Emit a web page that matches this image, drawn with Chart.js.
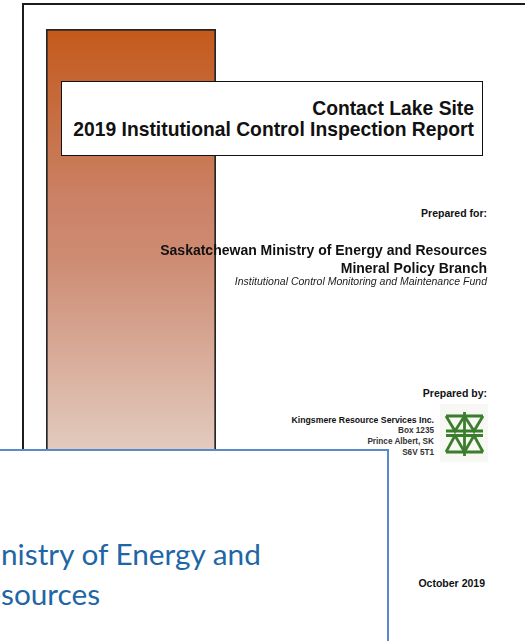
<!DOCTYPE html>
<html>
<head>
<meta charset="utf-8">
<title>Contact Lake Site - 2019 Institutional Control Inspection Report</title>
<script src="https://cdn.jsdelivr.net/npm/chart.js@4.4.1/dist/chart.umd.min.js"></script>
<style>
html, body { margin: 0; padding: 0; background: #fff; }
body { width: 525px; height: 641px; position: relative; overflow: hidden; font-family: "Liberation Sans", Arial, sans-serif; color: #111; }
.abs { position: absolute; white-space: nowrap; text-align: right; }
.page { position: absolute; left: 22px; top: 3px; width: 620px; height: 720px; border: 2px solid #1c1c1c; box-sizing: border-box; }
#bandWrap { position: absolute; left: 46px; top: 29px; width: 170px; height: 612px; }
.titlebox { position: absolute; left: 61px; top: 81px; width: 422px; height: 75px; border: 1.5px solid #111; box-sizing: border-box; background: #fff; }
.title { right: 51px; top: 98px; font-size: 19.3px; line-height: 21px; font-weight: bold; }
.small-b { font-size: 10.5px; line-height: 10.5px; font-weight: bold; }
.client { right: 38px; top: 241px; font-size: 14px; line-height: 18px; font-weight: bold; }
.fund { right: 38px; top: 276px; font-size: 10.5px; line-height: 10.5px; font-style: italic; color: #222; }
.firm { right: 91px; top: 415px; font-size: 8.7px; line-height: 10px; color: #111; }
.firm span { font-size: 8.2px; font-weight: bold; color: #333; }
.logo { position: absolute; left: 438px; top: 402px; width: 52px; height: 60px; }
.slide { position: absolute; left: -10px; top: 449px; width: 399px; height: 260px; border: 2px solid #5a8ac8; box-sizing: border-box; background: #fff; }
.blue { position: absolute; white-space: nowrap; font-family: Lato, "Open Sans", sans-serif; font-size: 29px; line-height: 29px; color: #1f66a6; }
</style>
</head>
<body>

<div class="page"></div>
<div id="bandWrap"><canvas id="band" width="170" height="612"></canvas></div>
<div class="titlebox"></div>
<div class="abs title">Contact Lake Site<br>2019 Institutional Control Inspection Report</div>

<div class="abs small-b" style="right:38px;top:208px;">Prepared for:</div>
<div class="abs client">Saskatchewan Ministry of Energy and Resources<br>Mineral Policy Branch</div>
<div class="abs fund">Institutional Control Monitoring and Maintenance Fund</div>

<div class="abs small-b" style="right:38px;top:388px;">Prepared by:</div>
<div class="abs firm"><b>Kingsmere Resource Services Inc.</b><br><span>Box 1235</span><br><span>Prince Albert, SK</span><br><span>S6V 5T1</span></div>
<svg class="logo" viewBox="0 0 52 60" xmlns="http://www.w3.org/2000/svg">
  <rect x="2" y="2" width="48" height="58" fill="#f7f7f3"/>
  <g stroke="#3a7d2c" stroke-width="2.8" fill="none" stroke-linejoin="miter">
    <line x1="8" y1="14" x2="45" y2="14"/>
    <line x1="8" y1="29" x2="45" y2="29"/>
    <line x1="8" y1="33.5" x2="45" y2="33.5"/>
    <line x1="8" y1="50" x2="45" y2="50"/>
    <polyline points="8,14 17,29 26.5,14 36,29 45,14"/>
    <polyline points="8,50 17,33.5 26.5,50 36,33.5 45,50"/>
    <line x1="26.5" y1="10" x2="26.5" y2="54"/>
  </g>
</svg>

<div class="abs small-b" style="right:40px;top:578px;">October 2019</div>

<div class="slide"></div>
<div class="blue" id="blue1" style="left:-170px;top:539px;">Saskatchewan Ministry of Energy and</div>
<div class="blue" id="blue2" style="left:-32px;top:579px;">Resources</div>

<script>
// Banda lateral de la portada: una sola barra que ocupa todo el lienzo
const coverBands = ['Portada'];
const bandValues = [1];

function bandGradient(chart) {
  const area = chart.chartArea;
  if (!area) return '#c55a1c';
  const g = chart.ctx.createLinearGradient(0, area.top, 0, area.bottom);
  g.addColorStop(0, '#c45a1a');
  g.addColorStop(0.12, '#c66a3c');
  g.addColorStop(0.28, '#cb8266');
  g.addColorStop(0.38, '#ce8c74');
  g.addColorStop(0.68, '#e2c9bc');
  g.addColorStop(1, '#f1e6e0');
  return g;
}

new Chart(document.getElementById('band'), {
  type: 'bar',
  data: {
    labels: coverBands,
    datasets: [{
      data: bandValues,
      backgroundColor: ctx => bandGradient(ctx.chart),
      borderColor: '#262626',
      borderWidth: 2,
      borderSkipped: false,
      categoryPercentage: 1,
      barPercentage: 1
    }]
  },
  options: {
    responsive: false,
    animation: false,
    layout: { padding: 0 },
    plugins: { legend: { display: false }, tooltip: { enabled: false } },
    scales: {
      x: { display: false },
      y: { display: false, min: 0, max: 1 }
    }
  }
});

// La diapositiva azul está cortada por la izquierda: se ajusta el texto
// para que "nistry of Energy and" quede entre x=1 y x=263
function fitBlue() {
  const c = document.createElement('canvas').getContext('2d');
  c.font = '100px Lato';
  const w = c.measureText('nistry of Energy and').width;
  const px = 100 * 262 / w;
  c.font = px + 'px Lato';
  const off1 = c.measureText('Saskatchewan Mi').width;
  const off2 = c.measureText('Re').width;
  const b1 = document.getElementById('blue1');
  const b2 = document.getElementById('blue2');
  [b1, b2].forEach(el => { el.style.fontSize = px + 'px'; el.style.lineHeight = px + 'px'; });
  b1.style.left = (1 - off1) + 'px';
  b2.style.left = (1 - off2) + 'px';
  b1.style.top = (565 - 0.887 * px) + 'px';
  b2.style.top = (605 - 0.887 * px) + 'px';
}
fitBlue();
if (document.fonts) document.fonts.load('29px Lato').then(fitBlue);
</script>
</body>
</html>
